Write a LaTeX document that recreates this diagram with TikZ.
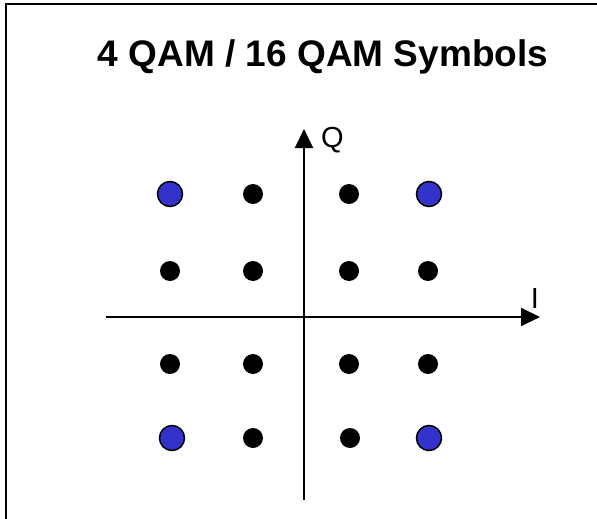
\documentclass[tikz,border=0pt]{standalone}
\usepackage{fontspec}
\setmainfont{Liberation Sans}
\usetikzlibrary{arrows.meta}
\begin{document}
\begin{tikzpicture}[x=1pt,y=-1pt,
  frame/.style={line width=2pt},
  axis/.style={line width=2pt,-{Triangle[length=19pt,width=18pt]}},
  dot/.style={circle,fill=black,inner sep=0pt,minimum size=20pt},
  bigdot/.style={circle,draw=black,line width=1.5pt,fill=qblue,inner sep=0pt,minimum size=25pt},
  lbl/.style={font=\fontsize{29}{32}\selectfont,inner sep=0pt}]
\definecolor{qblue}{HTML}{3333CC}
\useasboundingbox (0,0) rectangle (597,519);
\fill[white] (0,0) rectangle (597,519);
\draw[frame] (6,519) -- (6,4) -- (597,4);
\node[font=\bfseries\fontsize{37}{40}\selectfont,inner sep=0pt] (title) at (323,57) {4 QAM / 16 QAM Symbols};
% axes
\coordinate (xs) at (106,317);
\coordinate (xe) at (540,317);
\coordinate (ys) at (304,500);
\coordinate (ye) at (304,129);
\draw[axis] (xs) -- (xe);
\draw[axis] (ys) -- (ye);
\node[lbl,anchor=base west] (Q) at (321,147) {Q};
\node[lbl,anchor=base] (I) at (535,308) {I};
% points
\node[bigdot] (p11) at (170,194) {};
\node[dot] (p12) at (253,194) {};
\node[dot] (p13) at (349,194) {};
\node[bigdot] (p14) at (429,194) {};
\node[dot] (p21) at (170,271) {};
\node[dot] (p22) at (253,271) {};
\node[dot] (p23) at (349,271) {};
\node[dot] (p24) at (428,271) {};
\node[dot] (p31) at (170,364) {};
\node[dot] (p32) at (253,364) {};
\node[dot] (p33) at (349,364) {};
\node[dot] (p34) at (428,364) {};
\node[bigdot] (p41) at (172,438) {};
\node[dot] (p42) at (253,438) {};
\node[dot] (p43) at (350,438) {};
\node[bigdot] (p44) at (429,438) {};
\end{tikzpicture}
\end{document}
